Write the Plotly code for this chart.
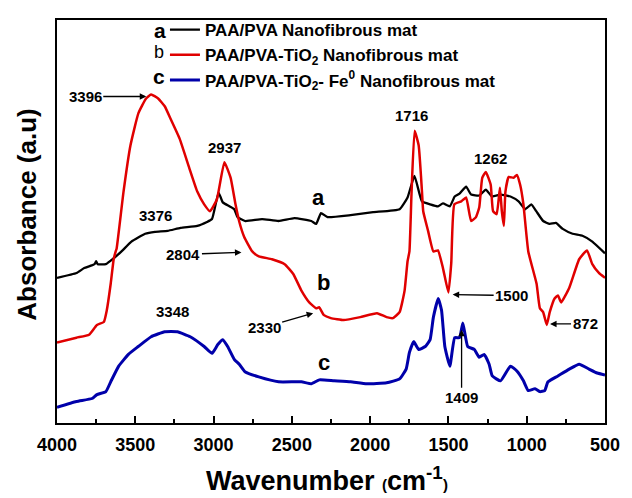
import plotly.graph_objects as go

FONT = "Liberation Sans, Arial, Helvetica, sans-serif"

# ---- data (wavenumber cm-1, absorbance a.u.) ----
wn_a = [4000, 3875, 3826, 3760, 3750, 3740, 3688, 3638, 3588, 3525, 3437, 3374, 3293, 3211,
        3104, 3042, 3010, 2968, 2941, 2899, 2868, 2847, 2797, 2690, 2585, 2483, 2376, 2345,
        2314, 2272, 2125, 1981, 1812, 1761, 1717, 1669, 1617, 1567, 1535, 1491, 1460, 1429,
        1387, 1355, 1303, 1261, 1222, 1167, 1104, 1052, 1010, 971, 939, 895, 853, 814, 770,
        707, 644, 581, 500]
abs_a = [1.48, 1.53, 1.58, 1.62, 1.65, 1.62, 1.62, 1.68, 1.75, 1.85, 1.93, 1.95, 1.96, 1.99,
         2.01, 2.05, 2.08, 2.35, 2.25, 2.21, 2.18, 2.10, 2.06, 2.08, 2.06, 2.09, 2.06, 2.03,
         2.14, 2.10, 2.12, 2.15, 2.18, 2.30, 2.52, 2.26, 2.23, 2.21, 2.24, 2.21, 2.31, 2.34,
         2.41, 2.33, 2.32, 2.38, 2.31, 2.33, 2.31, 2.26, 2.18, 2.23, 2.16, 2.06, 2.03, 2.04, 1.98,
         1.93, 1.91, 1.85, 1.73]

wn_b = [4000, 3876, 3795, 3745, 3701, 3682, 3657, 3638, 3625, 3619, 3575, 3531, 3480, 3431,
        3399, 3354, 3312, 3274, 3217, 3155, 3104, 3060, 3023, 2979, 2931, 2891, 2860, 2837,
        2805, 2753, 2711, 2627, 2546, 2491, 2439, 2389, 2345, 2326, 2295, 2251, 2169, 2063,
        1956, 1895, 1855, 1812, 1780, 1761, 1749, 1736, 1716, 1690, 1669, 1661, 1630, 1596,
        1567, 1535, 1500, 1482, 1462, 1418, 1387, 1355, 1324, 1303, 1284, 1261, 1230, 1215,
        1192, 1171, 1159, 1146, 1136, 1115, 1084, 1063, 1042, 1021, 990, 937, 916, 895, 872,
        853, 822, 801, 780, 728, 665, 615, 581, 539, 500]
abs_b = [0.82, 0.87, 0.90, 1.00, 1.03, 1.15, 1.42, 1.67, 1.75, 1.78, 2.36, 2.83, 3.16, 3.31,
         3.35, 3.31, 3.23, 3.10, 2.90, 2.60, 2.36, 2.23, 2.16, 2.28, 2.66, 2.50, 2.23, 2.06,
         1.90, 1.75, 1.70, 1.67, 1.62, 1.52, 1.35, 1.23, 1.17, 1.18, 1.10, 1.07, 1.05, 1.08,
         1.12, 1.08, 1.07, 1.13, 1.35, 1.65, 1.75, 2.33, 2.98, 2.83, 2.36, 2.16, 1.96, 1.75,
         1.76, 1.58, 1.33, 1.63, 2.23, 2.26, 2.30, 2.06, 2.10, 2.20, 2.50, 2.56, 2.43, 2.16,
         2.13, 2.40, 2.16, 2.01, 2.36, 2.51, 2.50, 2.53, 2.43, 2.23, 1.75, 1.42, 1.17, 1.13, 1.00,
         1.13, 1.27, 1.30, 1.23, 1.38, 1.67, 1.76, 1.62, 1.53, 1.48]

wn_c = [4000, 3876, 3776, 3745, 3688, 3657, 3606, 3544, 3481, 3399, 3312, 3231, 3149, 3060,
        3010, 2973, 2941, 2910, 2868, 2836, 2797, 2711, 2585, 2439, 2376, 2324, 2230, 2125,
        2021, 1895, 1812, 1770, 1749, 1722, 1690, 1648, 1617, 1596, 1565, 1544, 1523, 1491,
        1460, 1429, 1408, 1377, 1335, 1303, 1272, 1240, 1220, 1167, 1104, 1063, 1021, 990,
        947, 916, 885, 864, 801, 728, 665, 602, 550, 500]
abs_c = [0.16, 0.22, 0.25, 0.29, 0.32, 0.42, 0.58, 0.70, 0.78, 0.88, 0.93, 0.93, 0.88, 0.78,
         0.71, 0.80, 0.85, 0.78, 0.65, 0.60, 0.52, 0.47, 0.42, 0.42, 0.40, 0.44, 0.43, 0.42,
         0.40, 0.41, 0.45, 0.55, 0.72, 0.83, 0.75, 0.78, 0.85, 1.08, 1.27, 1.15, 0.78, 0.58,
         0.87, 0.87, 1.02, 0.78, 0.75, 0.67, 0.70, 0.60, 0.48, 0.43, 0.58, 0.53, 0.43, 0.33,
         0.35, 0.32, 0.33, 0.42, 0.48, 0.55, 0.60, 0.55, 0.51, 0.49]

series_names = ["PAA/PVA Nanofibrous mat",
                "PAA/PVA-TiO<sub>2</sub> Nanofibrous mat",
                "PAA/PVA-TiO<sub>2</sub>- Fe<sup>0</sup> Nanofibrous mat"]
series_colors = ["#000000", "#e00000", "#0000aa"]
series_widths = [2.3, 2.5, 3]

# peak labels without arrows: (text, wavenumber, absorbance)
plain_labels = [("2937", 2930, 2.81), ("3376", 3374, 2.12), ("1716", 1736, 3.14),
                ("1262", 1234, 2.70), ("3348", 3261, 1.14)]
# curve letters
curve_letters = [("a", 2332, 2.30), ("b", 2295, 1.43), ("c", 2295, 0.62)]
# arrow labels: (text, tip wavenumber, tip absorbance, text offset x px, offset y px)
arrow_labels = [("3396", 3430, 3.33, -61, 0), ("2804", 2822, 1.74, -58, 2),
                ("2330", 2364, 1.12, -49, 14), ("1500", 1473, 1.31, 59, 1),
                ("872", 851, 1.01, 35, 0), ("1409", 1416, 0.95, 0, 68)]

fig = go.Figure()
for wn, ab, name, col, w in zip([wn_a, wn_b, wn_c], [abs_a, abs_b, abs_c],
                                series_names, series_colors, series_widths):
    fig.add_trace(go.Scatter(x=wn, y=ab, mode="lines", name=name,
                             line=dict(color=col, width=w, shape="spline", smoothing=0.4)))

annotations = []
for t, x, y in plain_labels:
    annotations.append(dict(x=x, y=y, xref="x", yref="y", text="<b>%s</b>" % t,
                            showarrow=False, xanchor="center", yanchor="middle",
                            font=dict(family=FONT, size=15, color="black")))
for t, x, y in curve_letters:
    annotations.append(dict(x=x, y=y, xref="x", yref="y", text="<b>%s</b>" % t,
                            showarrow=False, xanchor="center", yanchor="middle",
                            font=dict(family=FONT, size=22, color="black")))
for t, x, y, ax, ay in arrow_labels:
    annotations.append(dict(x=x, y=y, xref="x", yref="y", text="<b>%s</b>" % t,
                            showarrow=True, ax=ax, ay=ay, arrowhead=2, arrowsize=1,
                            arrowwidth=1.3, arrowcolor="black",
                            font=dict(family=FONT, size=15, color="black")))

# legend letters
legend_letters = [("<b>a</b>", 0.188, 0.975, 21), ("b", 0.187, 0.92, 18), ("<b>c</b>", 0.187, 0.86, 21)]
for t, x, y, s in legend_letters:
    annotations.append(dict(x=x, y=y, xref="paper", yref="paper", text=t, showarrow=False,
                            xanchor="center", yanchor="middle",
                            font=dict(family=FONT, size=s, color="black")))

# axis titles
annotations.append(dict(x=-0.054, y=0.518, xref="paper", yref="paper", textangle=-90,
                        xanchor="center", yanchor="middle",
                        text="<b>Absorbance (a.u)</b>", showarrow=False,
                        font=dict(family=FONT, size=26, color="black")))
annotations.append(dict(x=0.493, y=-0.14, xref="paper", yref="paper",
                        xanchor="center", yanchor="middle",
                        text="<b>Wavenumber <span style='font-size:15px'>(</span>cm<sup>-1</sup>"
                             "<span style='font-size:15px'>)</span></b>",
                        showarrow=False, font=dict(family=FONT, size=27, color="black")))

fig.update_layout(
    width=632, height=498,
    margin=dict(l=57, r=17, t=12, b=75),
    paper_bgcolor="white", plot_bgcolor="white",
    showlegend=True,
    legend=dict(x=0.197, y=1.0195, xanchor="left", yanchor="top",
                bgcolor="rgba(0,0,0,0)", borderwidth=0, itemwidth=30,
                tracegroupgap=0,
                font=dict(family=FONT, size=17, color="black", weight="bold")),
    annotations=annotations,
    xaxis=dict(range=[4000, 500], showline=True, mirror=True, linecolor="black", linewidth=2,
               ticks="inside", ticklen=7, tickwidth=1.5, tickcolor="black",
               tickmode="linear", tick0=500, dtick=500, showgrid=False, zeroline=False,
               ticklabelstandoff=4,
               tickfont=dict(family=FONT, size=18, color="black", weight="bold"),
               minor=dict(ticks="inside", ticklen=4, tickwidth=1.5, tickcolor="black", dtick=250,
                          showgrid=False)),
    yaxis=dict(range=[0, 4.11], showline=True, mirror=True, linecolor="black", linewidth=2,
               ticks="", showticklabels=False, showgrid=False, zeroline=False),
)

fig.write_html("out.html")
